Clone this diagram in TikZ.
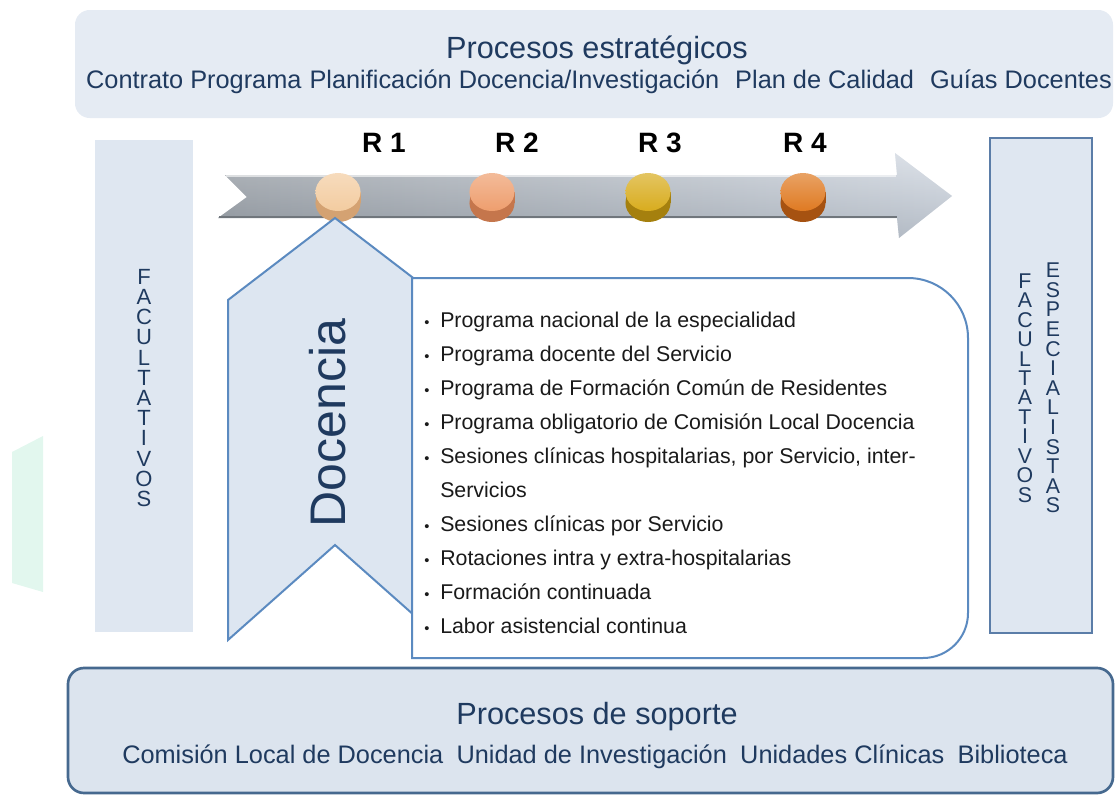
\documentclass[tikz,border=0pt]{standalone}
\usepackage{fontspec}
\setmainfont{Liberation Sans}
\definecolor{navy}{HTML}{1F3A5F}
\definecolor{topfill}{HTML}{E5EBF3}
\definecolor{sidefill}{HTML}{DFE7F1}
\definecolor{botfill}{HTML}{DCE4EE}
\definecolor{boxedge}{HTML}{5B7DA8}
\definecolor{botedge}{HTML}{46698F}
\definecolor{docfill}{HTML}{DDE6F1}
\definecolor{docedge}{HTML}{5B8AC0}
\definecolor{greenfaint}{HTML}{E2F7EE}
\definecolor{arrowdark}{HTML}{8C939B}
\definecolor{arrowlight}{HTML}{CDD5E0}
\definecolor{itemtext}{HTML}{1A1A1A}
\definecolor{ra}{HTML}{F3CCA0}\definecolor{rab}{HTML}{D4A272}
\definecolor{rb}{HTML}{EE9E6E}\definecolor{rbb}{HTML}{C5764C}
\definecolor{rc}{HTML}{D8AC1E}\definecolor{rcb}{HTML}{A5800E}
\definecolor{rd}{HTML}{DF7A22}\definecolor{rdb}{HTML}{A65211}
\newcommand\mycyl[4]{%
  \fill[#3] (#1,203) ellipse [x radius=16.9pt, y radius=14.25pt];
  \fill[#3] (#1-22.5,192) rectangle (#1+22.5,203);
  \shade[top color=#2!70!white, bottom color=#2] (#1,192) ellipse [x radius=16.9pt, y radius=14.25pt];
  \coordinate (#4) at (#1,222);
}
\begin{document}
\begin{tikzpicture}[x=0.75pt,y=-0.75pt,
  title/.style={text=navy, font=\fontsize{23}{27}\selectfont, inner sep=0pt},
  subline/.style={text=navy, font=\fontsize{19}{22}\selectfont, inner sep=0pt},
  rlabel/.style={text=black, font=\bfseries\fontsize{21}{24}\selectfont, inner sep=0pt},
  vletters/.style={text=navy, align=center, inner sep=0pt},
  items/.style={text=itemtext, align=left, inner sep=0pt, font=\fontsize{16}{25.5}\selectfont}
]
\useasboundingbox (0,0) rectangle (1115,797);
% faint green shape at the left edge
\fill[greenfaint] (12,452) -- (43,436) -- (43,592) -- (12,583) -- cycle;
% strategic processes band
\fill[topfill, rounded corners=11pt] (75,10) rectangle (1113,118);
\node[title] (strat) at (597,50) {Procesos estratégicos};
\node[subline] (stratlist) at (599,82) {Contrato Programa\hspace{6pt}Planificación Docencia/Investigación\hspace{12pt}Plan de Calidad\hspace{12pt}Guías Docentes};
% left FACULTATIVOS column
\fill[sidefill] (95,140) rectangle (193,632);
\node[vletters, font=\fontsize{16.5}{15.15}\selectfont] (fac) at (144,388)
  {F\\A\\C\\U\\L\\T\\A\\T\\I\\V\\O\\S};
% right column
\filldraw[sidefill, draw=boxedge, line width=1.5pt] (990,138) rectangle (1092,633);
\node[vletters, font=\fontsize{16}{14.6}\selectfont] (fac2) at (1025,388)
  {F\\A\\C\\U\\L\\T\\A\\T\\I\\V\\O\\S};
\node[vletters, font=\fontsize{16}{14.7}\selectfont] (esp) at (1053,388)
  {E\\S\\P\\E\\C\\I\\A\\L\\I\\S\\T\\A\\S};
% timeline arrow
\shade[left color=arrowdark, right color=arrowlight]
  (225,175) -- (897,175) -- (895,153) -- (952,196) -- (899,238) -- (897,218)
  -- (218,218) -- (247,197) -- cycle;
\shade[top color=white, bottom color=arrowdark, opacity=0.35]
  (225,175) -- (897,175) -- (895,153) -- (952,196) -- (899,238) -- (897,218)
  -- (218,218) -- (247,197) -- cycle;
\draw[arrowdark!80!black, line width=1.5pt] (219,217) -- (897,217);
\draw[white, opacity=0.6, line width=1pt] (226,176) -- (896,176);
% residency years
\mycyl{338}{ra}{rab}{c1}
\mycyl{492}{rb}{rbb}{c2}
\mycyl{648}{rc}{rcb}{c3}
\mycyl{803}{rd}{rdb}{c4}
\node[rlabel] (r1) at (384,143) {R 1};
\node[rlabel] (r2) at (517,143) {R 2};
\node[rlabel] (r3) at (660,143) {R 3};
\node[rlabel] (r4) at (805,143) {R 4};
% Docencia chevron
\filldraw[docfill, draw=docedge, line width=1.5pt]
  (335,218) -- (442,300) -- (442,640) -- (335,545) -- (228,640) -- (228,300) -- cycle;
\node[text=navy, rotate=90, font=\fontsize{37.5}{40}\selectfont, inner sep=0pt] (doc) at (328,423) {Docencia};
% list box
\filldraw[white, draw=docedge, line width=1.5pt]
  (412,278) -- (908,278) to[out=0,in=90] (968,338) -- (968,613)
  to[out=-90,in=0] (923,658) -- (412,658) -- cycle;
\node[items, anchor=north west] (list) at (424,311.5) {%
  \makebox[12pt][l]{\fontsize{11}{11}\selectfont•}Programa nacional de la especialidad\\
  \makebox[12pt][l]{\fontsize{11}{11}\selectfont•}Programa docente del Servicio\\
  \makebox[12pt][l]{\fontsize{11}{11}\selectfont•}Programa de Formación Común de Residentes\\
  \makebox[12pt][l]{\fontsize{11}{11}\selectfont•}Programa obligatorio de Comisión Local Docencia\\
  \makebox[12pt][l]{\fontsize{11}{11}\selectfont•}Sesiones clínicas hospitalarias, por Servicio, inter-\\
  \makebox[12pt][l]{}Servicios\\
  \makebox[12pt][l]{\fontsize{11}{11}\selectfont•}Sesiones clínicas por Servicio\\
  \makebox[12pt][l]{\fontsize{11}{11}\selectfont•}Rotaciones intra y extra-hospitalarias\\
  \makebox[12pt][l]{\fontsize{11}{11}\selectfont•}Formación continuada\\
  \makebox[12pt][l]{\fontsize{11}{11}\selectfont•}Labor asistencial continua};
% support processes band
\filldraw[botfill, draw=botedge, line width=2pt, rounded corners=12pt] (68,668) rectangle (1113,793);
\node[title] (sop) at (597,717) {Procesos de soporte};
\node[subline] (soplist) at (595,757) {Comisión Local de Docencia\hspace{10pt}Unidad de Investigación\hspace{10pt}Unidades Clínicas\hspace{10pt}Biblioteca};
\end{tikzpicture}
\end{document}
